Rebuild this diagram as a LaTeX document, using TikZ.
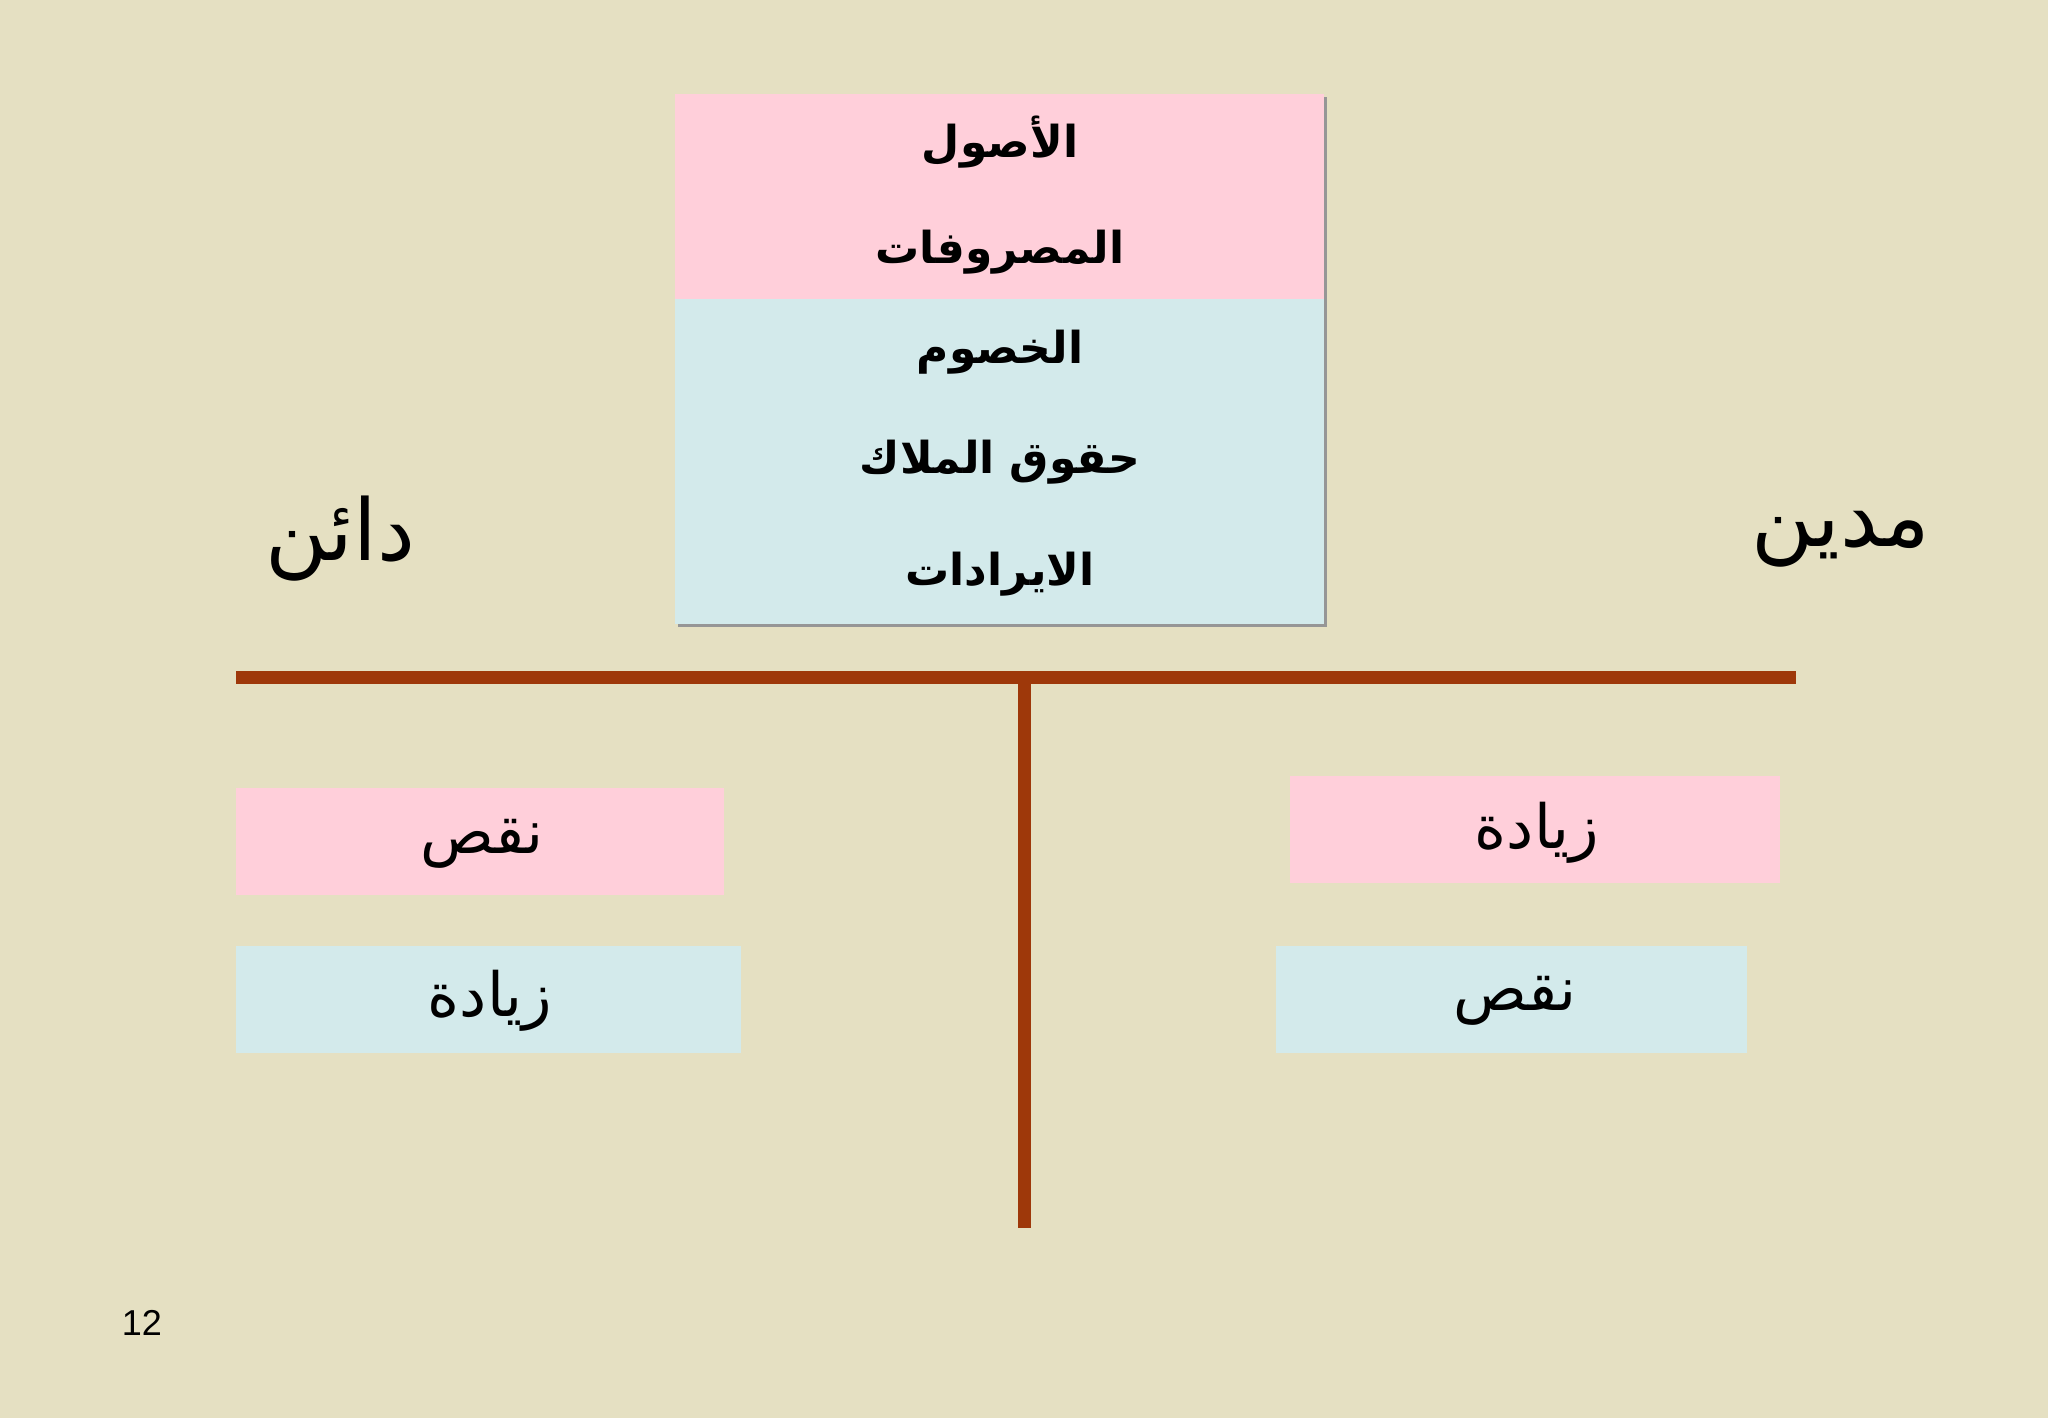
\documentclass[tikz,border=0pt]{standalone}
\usepackage{fontspec}
\setmainfont{Liberation Sans}
\TeXXeTstate=1
\newfontfamily\arabicfont[Script=Arabic]{DejaVu Sans}
\definecolor{bgc}{RGB}{229,224,194}
\definecolor{pinkc}{RGB}{255,207,218}
\definecolor{bluec}{RGB}{211,234,235}
\definecolor{rust}{RGB}{158,56,10}
\definecolor{shadowc}{RGB}{150,150,150}
\tikzset{
  toptxt/.style={font=\arabicfont\bfseries\fontsize{44}{50}\selectfont, inner sep=0pt},
  sidetxt/.style={font=\arabicfont\fontsize{85}{92}\selectfont, inner sep=0pt},
  boxtxt/.style={font=\arabicfont\fontsize{61}{66}\selectfont, inner sep=0pt},
  tline/.style={draw=rust, line width=13pt}
}
\begin{document}
\begin{tikzpicture}[x=1pt,y=-1pt]
\fill[bgc] (0,0) rectangle (2048,1418);
\useasboundingbox (0,0) rectangle (2048,1418);
% top box with shadow
\fill[shadowc] (678,97) rectangle (1327,627);
\path[fill=pinkc] (675,94) rectangle (1324,299);
\path[fill=bluec] (675,299) rectangle (1324,624);
\node[toptxt] (t1) at (1000,142) {\beginR الأصول\endR};
\node[toptxt] (t2) at (1000,252) {\beginR المصروفات\endR};
\node[toptxt] (t3) at (1000,352) {\beginR الخصوم\endR};
\node[toptxt] (t4) at (1000,462) {\beginR حقوق الملاك\endR};
\node[toptxt] (t5) at (1000,574) {\beginR الايرادات\endR};
% side labels
\node[sidetxt] (cr) at (340,539) {\beginR دائن\endR};
\node[sidetxt] (dr) at (1841,539) {\beginR مدين\endR};
% T account
\coordinate (hL) at (236,677);
\coordinate (hR) at (1796,677);
\coordinate (vT) at (1024,671);
\coordinate (vB) at (1024,1228);
\draw[tline] (hL) -- (hR);
\draw[tline] (vT) -- (vB);
% bottom boxes
\path[fill=pinkc] (236,788) rectangle (724,895);
\path[fill=bluec] (236,946) rectangle (741,1053);
\path[fill=pinkc] (1290,776) rectangle (1780,883);
\path[fill=bluec] (1276,946) rectangle (1747,1053);
\node[boxtxt] (l1) at (482,844) {\beginR نقص\endR};
\node[boxtxt] (l2) at (490,1001) {\beginR زيادة\endR};
\node[boxtxt] (r1) at (1537,833) {\beginR زيادة\endR};
\node[boxtxt] (r2) at (1515,1001) {\beginR نقص\endR};
% page number
\node[font=\fontsize{36}{40}\selectfont, inner sep=0pt] (pg) at (142,1323) {12};
\end{tikzpicture}
\end{document}
